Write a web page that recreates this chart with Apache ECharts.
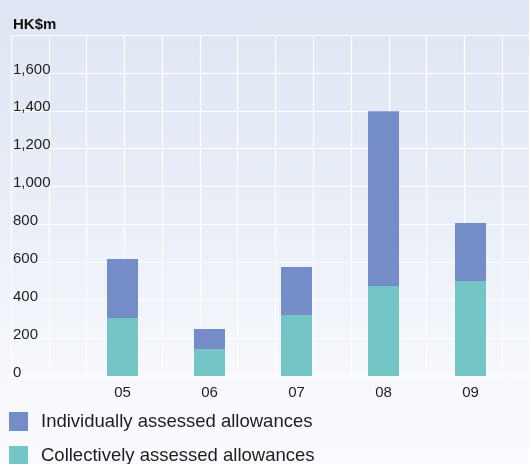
<!DOCTYPE html>
<html>
<head>
<meta charset="utf-8">
<script src="https://cdn.jsdelivr.net/npm/echarts@6/dist/echarts.min.js"></script>
<style>
  html, body { margin: 0; padding: 0; }
  #chart {
    width: 529px; height: 464px;
    background: linear-gradient(to bottom, #dfe6f3 0%, #e9eef7 45%, #f6f8fc 80%, #fafbfe 100%);
  }
</style>
</head>
<body>
<div id="chart"></div>
<script>
// Impairment allowances by year (HK$m)
const years = ['05', '06', '07', '08', '09'];
const collective = [306, 142, 322, 475, 501];
const individual = [311, 106, 253, 923, 306];
const yTicks = { min: 0, max: 1800, interval: 200 };
const seriesNames = ['Individually assessed allowances', 'Collectively assessed allowances'];

const textColor = '#1e1e1e';
const font = 'Liberation Sans, Arial, Helvetica, sans-serif';

const chart = echarts.init(document.getElementById('chart'), null, { renderer: 'canvas' });

const legendBase = {
  left: 4,
  itemWidth: 19, itemHeight: 19,
  icon: 'rect',
  textStyle: { fontSize: 18.5, color: textColor, fontFamily: font, padding: [0, 0, 0, 8] }
};

chart.setOption({
  backgroundColor: 'transparent',
  textStyle: { fontFamily: font },
  title: {
    text: 'HK$m',
    left: 8, top: 12,
    textStyle: { fontSize: 15, fontWeight: 'bold', color: '#111', fontFamily: font }
  },
  legend: [
    { ...legendBase, top: 407, data: [seriesNames[0]] },
    { ...legendBase, top: 441, data: [seriesNames[1]] }
  ],
  grid: [
    // background lattice
    { left: 11, right: 0, top: 35, bottom: 88, containLabel: false },
    // bars
    { left: 79, right: 15, top: 35, bottom: 88, containLabel: false }
  ],
  xAxis: [
    {
      gridIndex: 0, type: 'value', min: 0, max: 13.71, interval: 1,
      position: 'top',
      axisLine: { show: true, lineStyle: { color: '#ffffff', width: 2 } },
      axisTick: { show: false }, axisLabel: { show: false },
      splitLine: { show: true, lineStyle: { color: '#ffffff', width: 1.2 } }
    },
    {
      gridIndex: 1, type: 'category', data: years,
      axisLine: { show: true, lineStyle: { color: '#ffffff', width: 2 } },
      axisTick: { show: false },
      axisLabel: { color: textColor, fontSize: 15, margin: 9, fontFamily: font },
      splitLine: { show: false }
    }
  ],
  yAxis: [
    {
      gridIndex: 0, type: 'value', ...yTicks,
      axisLine: { show: false }, axisTick: { show: false },
      axisLabel: {
        inside: true, margin: 2, color: textColor, fontSize: 15,
        verticalAlign: 'bottom', lineHeight: 7,
        showMaxLabel: false,
        fontFamily: font,
        formatter: v => v.toLocaleString('en-US')
      },
      splitLine: { show: true, lineStyle: { color: '#ffffff', width: 1.2 } }
    },
    {
      gridIndex: 1, type: 'value', ...yTicks, show: false,
      splitLine: { show: false }
    }
  ],
  series: [
    {
      name: seriesNames[1], type: 'bar', stack: 'total',
      xAxisIndex: 1, yAxisIndex: 1,
      barWidth: 31,
      itemStyle: { color: '#74c6c6' },
      data: collective
    },
    {
      name: seriesNames[0], type: 'bar', stack: 'total',
      xAxisIndex: 1, yAxisIndex: 1,
      barWidth: 31,
      itemStyle: { color: '#748dc8' },
      data: individual
    }
  ]
});
</script>
</body>
</html>
